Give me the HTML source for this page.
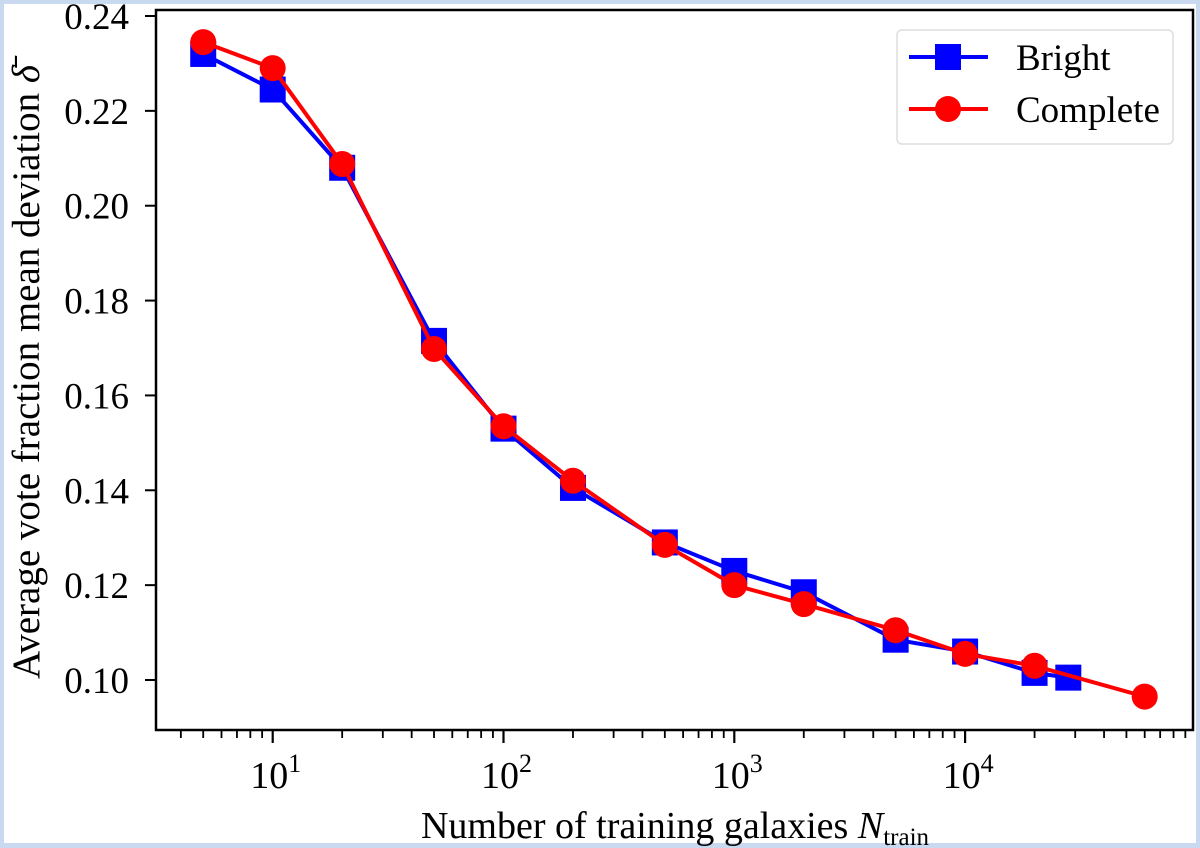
<!DOCTYPE html>
<html><head><meta charset="utf-8"><style>
html,body{margin:0;padding:0;background:#c9d9ef;}
svg{display:block;font-family:"Liberation Serif",serif;}
</style></head><body>
<svg width="1200" height="848" viewBox="0 0 1200 848">
<rect x="4" y="4" width="1192" height="839" fill="#fff"/>
<g id="plot"></g>
<text x="675" y="838" font-size="38" text-anchor="middle">Number of training galaxies <tspan font-style="italic">N</tspan><tspan font-size="25" dy="7">train</tspan></text>
<text transform="translate(39,372) rotate(-90)" font-size="39" text-anchor="middle">Average vote fraction mean deviation <tspan font-style="italic">δ̄</tspan></text>
<g>
<rect x="897" y="30" width="276" height="114" rx="5" fill="#fff" stroke="#ddd" stroke-width="1.5"/>
<line x1="909" y1="57" x2="988" y2="57" stroke="#0000ff" stroke-width="4"/>
<rect x="935" y="44" width="26" height="26" fill="#0000ff"/>
<text x="1016" y="70" font-size="37">Bright</text>
<line x1="909" y1="109" x2="988" y2="109" stroke="#ff0000" stroke-width="4"/>
<circle cx="948" cy="109" r="13" fill="#ff0000"/>
<text x="1016" y="122" font-size="37">Complete</text>
</g>
</svg>
<script>
const brightX=[5,10,20,50,100,200,500,1000,2000,5000,10000,20000,28000];
const brightY=[0.232,0.2245,0.208,0.1715,0.153,0.1405,0.129,0.123,0.1185,0.1085,0.106,0.1015,0.1005];
const completeX=[5,10,20,50,100,200,500,1000,2000,5000,10000,20000,60000];
const completeY=[0.2345,0.229,0.2088,0.1698,0.1535,0.142,0.1285,0.120,0.116,0.1105,0.1055,0.103,0.0965];
const yTicks=[0.10,0.12,0.14,0.16,0.18,0.20,0.22,0.24];
const xTickExps=[1,2,3,4];
const NS="http://www.w3.org/2000/svg";
const L=156,R=1193,T=10,B=730;
const xs=v=>272.7+230.8*(Math.log10(v)-1);
const ys=v=>16+(0.24-v)/0.14*664;
const g=document.getElementById('plot');
function mk(t,a){const e=document.createElementNS(NS,t);for(const k in a)e.setAttribute(k,a[k]);g.appendChild(e);return e;}
yTicks.forEach(v=>{
 const l=mk('line',{x1:L-11,x2:L,y1:ys(v),y2:ys(v),stroke:'#000','stroke-width':2});
 
 
 const t=mk('text',{x:L-27,y:ys(v)+13,'font-size':37,'text-anchor':'end'});
 t.textContent=v.toFixed(2);
 
 
});
for(let e=0;e<=4;e++)for(let m=1;m<10;m++){
 const v=m*Math.pow(10,e),x=xs(v);
 if(x<L||x>R)continue;
 const l=mk('line',{x1:x,x2:x,y1:B,y2:B+(m==1?13:8),stroke:'#000','stroke-width':m==1?2.2:1.8});
 
 
}
xTickExps.forEach(e=>{
 const t=mk('text',{x:xs(Math.pow(10,e))+3,y:B+58,'font-size':38,'text-anchor':'middle'});
 t.innerHTML='10<tspan font-size="26" dy="-16">'+e+'</tspan>';
 
 
});
function series(X,Y,col,sq,name){
 const p=mk('polyline',{points:X.map((x,i)=>xs(x)+','+ys(Y[i])).join(' '),fill:'none',stroke:col,'stroke-width':4});
 
 
 X.forEach((x,i)=>{
  const m=sq?mk('rect',{x:xs(x)-13,y:ys(Y[i])-13,width:26,height:26,fill:col}):mk('circle',{cx:xs(x),cy:ys(Y[i]),r:13,fill:col});
  
  
 });
}
series(brightX,brightY,'#0000ff',true,'bright');
series(completeX,completeY,'#ff0000',false,'complete');
const f=mk('rect',{x:L,y:T,width:R-L,height:B-T,fill:'none',stroke:'#000','stroke-width':2.5});


</script>
</body></html>
